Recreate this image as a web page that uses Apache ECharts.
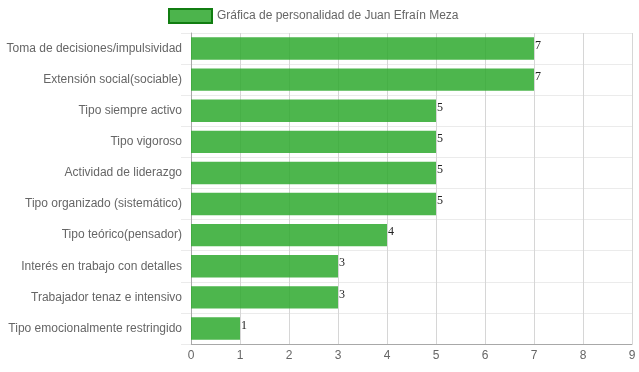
<!DOCTYPE html>
<html>
<head>
<meta charset="utf-8">
<script src="https://cdn.jsdelivr.net/npm/echarts@6/dist/echarts.min.js"></script>
<style>html,body{margin:0;padding:0;background:#fff}#c{width:639px;height:372px}</style>
</head>
<body>
<div id="c"></div>
<script>
const categories = [
  "Toma de decisiones/impulsividad",
  "Extensión social(sociable)",
  "Tipo siempre activo",
  "Tipo vigoroso",
  "Actividad de liderazgo",
  "Tipo organizado (sistemático)",
  "Tipo teórico(pensador)",
  "Interés en trabajo con detalles",
  "Trabajador tenaz e intensivo",
  "Tipo emocionalmente restringido"
];
const values = [7, 7, 5, 5, 5, 5, 4, 3, 3, 1];
const seriesName = "Gráfica de personalidad de Juan Efraín Meza";
const xTicks = { min: 0, max: 9, interval: 1 };

const chart = echarts.init(document.getElementById('c'), null, { renderer: 'canvas' });
chart.setOption({
  animation: false,
  textStyle: { fontFamily: 'Liberation Sans, Arial, Helvetica, sans-serif' },
  legend: {
    left: 163, top: 3,
    itemWidth: 43, itemHeight: 14,
    itemGap: 5,
    textStyle: { color: '#666', fontSize: 12, fontFamily: 'Liberation Sans, Arial, sans-serif' },
    data: [{ name: seriesName, icon: 'rect', itemStyle: { color: '#4cb44c', borderColor: '#117d11', borderWidth: 2 } }]
  },
  grid: { left: 191, right: 7, top: 33, bottom: 28, containLabel: false },
  xAxis: {
    type: 'value', min: xTicks.min, max: xTicks.max, interval: xTicks.interval,
    axisLine: { show: true, lineStyle: { color: '#a8a8a8', width: 1 } },
    axisTick: { show: false },
    axisLabel: { color: '#666', fontSize: 12, margin: 6 },
    splitLine: { show: true, lineStyle: { color: '#d6d6d6', width: 1 } }
  },
  yAxis: {
    type: 'category', data: categories, inverse: true,
    axisLine: { show: true, lineStyle: { color: '#a8a8a8', width: 1 } },
    axisTick: { show: true, length: 10, lineStyle: { color: '#ebebeb' } },
    axisLabel: { color: '#666', fontSize: 12, margin: 9 },
    splitLine: { show: true, lineStyle: { color: '#ebebeb', width: 1 } }
  },
  series: [{
    name: seriesName,
    type: 'bar',
    data: values,
    barWidth: '72%',
    itemStyle: { color: 'rgba(48,170,48,0.86)' },
    label: {
      show: true, position: 'right', distance: 1, offset: [0, -3],
      color: '#222', fontSize: 12, fontFamily: 'Liberation Serif, Times New Roman, serif'
    }
  }]
});
</script>
</body>
</html>
